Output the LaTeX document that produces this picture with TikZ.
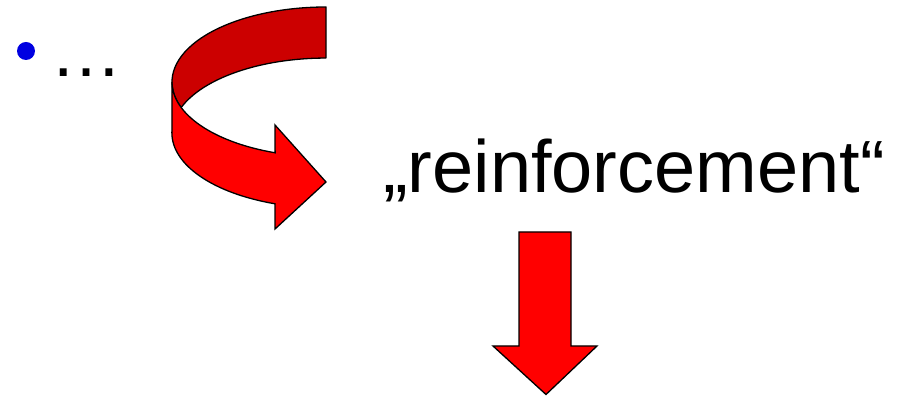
\documentclass[tikz,border=0pt]{standalone}
\usepackage{fontspec}
\setmainfont{Liberation Sans}
\definecolor{bulletblue}{RGB}{0,0,225}
\definecolor{darkribbon}{RGB}{204,0,0}
\definecolor{lightribbon}{RGB}{255,0,0}
\tikzset{
  ribbonback/.style={fill=darkribbon, draw=black, line width=1.3pt, line join=round},
  ribbonfront/.style={fill=lightribbon, draw=black, line width=1.3pt, line join=miter},
  bigtext/.style={font=\fontsize{74}{82}\selectfont, inner sep=0pt, anchor=base west},
  bulletdot/.style={circle, fill=bulletblue, minimum size=18pt, inner sep=0pt}
}
\begin{document}
\begin{tikzpicture}[x=1pt,y=1pt]
\useasboundingbox (0,0) rectangle (897,396);
% bullet and ellipsis
\node[bulletdot] (bullet) at (26,345) {};
\node[bigtext, font=\fontsize{72}{80}\selectfont] (dots) at (50,319.5) {…};
% curved ribbon arrow: back (dark) part
\path[ribbonback] (326,389) arc[start angle=90, end angle=199.9, x radius=154, y radius=75]
  arc[start angle=160.1, end angle=90, x radius=154, y radius=75] -- cycle;
% front (light) part with arrow head
\path[ribbonfront] (172,314) arc[start angle=180, end angle=250.7, x radius=154, y radius=75]
  -- (275,271) -- (326,214) -- (275,167) -- (275,192.2)
  arc[start angle=250.7, end angle=180, x radius=154, y radius=75] -- cycle;
% text
\node[bigtext] (reinf) at (383,203) {„reinforcement“};
% down arrow
\path[ribbonfront] (519,164) -- (571,164) -- (571,50) -- (597,50) -- (546,1.5) -- (493,50) -- (519,50) -- cycle;
\end{tikzpicture}
\end{document}
